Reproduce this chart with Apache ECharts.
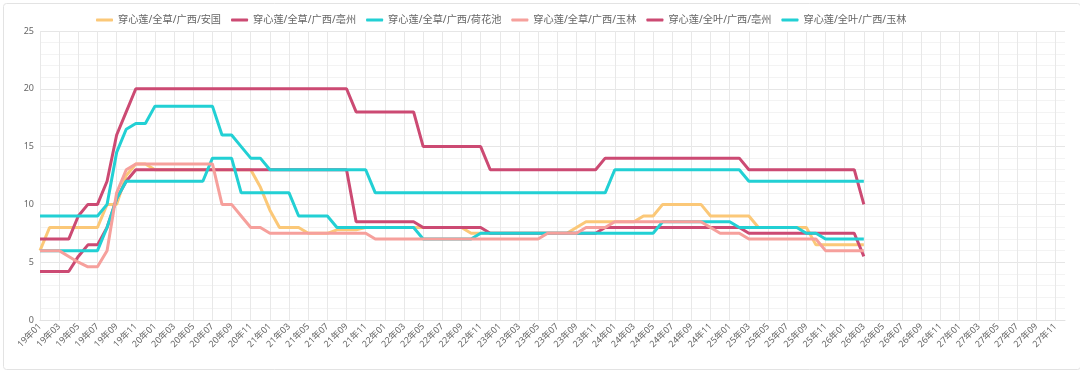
<!DOCTYPE html>
<html>
<head>
<meta charset="utf-8">
<script src="https://cdn.jsdelivr.net/npm/echarts@6/dist/echarts.min.js"></script>
<style>
html,body{margin:0;padding:0;background:#fff;}
#chart{width:1080px;height:374px;}
</style>
</head>
<body>
<div id="chart"></div>
<script>
var categories = [
'19年01','19年02','19年03','19年04','19年05','19年06','19年07','19年08','19年09','19年10','19年11','19年12',
'20年01','20年02','20年03','20年04','20年05','20年06','20年07','20年08','20年09','20年10','20年11','20年12',
'21年01','21年02','21年03','21年04','21年05','21年06','21年07','21年08','21年09','21年10','21年11','21年12',
'22年01','22年02','22年03','22年04','22年05','22年06','22年07','22年08','22年09','22年10','22年11','22年12',
'23年01','23年02','23年03','23年04','23年05','23年06','23年07','23年08','23年09','23年10','23年11','23年12',
'24年01','24年02','24年03','24年04','24年05','24年06','24年07','24年08','24年09','24年10','24年11','24年12',
'25年01','25年02','25年03','25年04','25年05','25年06','25年07','25年08','25年09','25年10','25年11','25年12',
'26年01','26年02','26年03','26年04','26年05','26年06','26年07','26年08','26年09','26年10','26年11','26年12',
'27年01','27年02','27年03','27年04','27年05','27年06','27年07','27年08','27年09','27年10','27年11','27年12'
];

var seriesNames = ['穿心莲/全草/广西/安国','穿心莲/全草/广西/亳州','穿心莲/全草/广西/荷花池','穿心莲/全草/广西/玉林','穿心莲/全叶/广西/亳州','穿心莲/全叶/广西/玉林'];

var quancaoAnguo = [6,8,8,8,8,8,8,10,10,12.5,13.5,13.5,
13,13,13,13,13,13,13,13,13,13,13,11.5,
9.5,8,8,8,7.5,7.5,7.5,7.8,7.8,7.8,8,8,
8,8,8,8,8,8,8,8,8,7.5,7.5,7.5,
7.5,7.5,7.5,7.5,7.5,7.5,7.5,7.5,8,8.5,8.5,8.5,
8.5,8.5,8.5,9,9,10,10,10,10,10,9,9,
9,9,9,8,8,8,8,8,8,6.5,6.5,6.5,
6.5,6.5,6.5];

var quancaoBozhou = [4.2,4.2,4.2,4.2,5.5,6.5,6.5,8,10.5,12,13,13,
13,13,13,13,13,13,13,13,13,13,13,13,
13,13,13,13,13,13,13,13,13,8.5,8.5,8.5,
8.5,8.5,8.5,8.5,8,8,8,8,8,8,8,7.5,
7.5,7.5,7.5,7.5,7.5,7.5,7.5,7.5,7.5,7.5,7.5,8,
8,8,8,8,8,8,8,8,8,8,8,8,
8,8,7.5,7.5,7.5,7.5,7.5,7.5,7.5,7.5,7.5,7.5,
7.5,7.5,5.5];

var quancaoHehuachi = [6,6,6,6,6,6,6,8,10.5,12,12,12,
12,12,12,12,12,12,14,14,14,11,11,11,
11,11,11,9,9,9,9,8,8,8,8,8,
8,8,8,8,7,7,7,7,7,7,7.5,7.5,
7.5,7.5,7.5,7.5,7.5,7.5,7.5,7.5,7.5,7.5,7.5,7.5,
7.5,7.5,7.5,7.5,7.5,8.5,8.5,8.5,8.5,8.5,8.5,8.5,
8.5,8,8,8,8,8,8,8,7.5,7.5,7,7,
7,7,7];

var quancaoYulin = [6,6,6,5.5,5,4.6,4.6,6,11,13,13.5,13.5,
13.5,13.5,13.5,13.5,13.5,13.5,13.5,10,10,9,8,8,
7.5,7.5,7.5,7.5,7.5,7.5,7.5,7.5,7.5,7.5,7.5,7,
7,7,7,7,7,7,7,7,7,7,7,7,
7,7,7,7,7,7.5,7.5,7.5,7.5,8,8,8,
8.5,8.5,8.5,8.5,8.5,8.5,8.5,8.5,8.5,8.5,8,7.5,
7.5,7.5,7,7,7,7,7,7,7,7,6,6,
6,6,6];

var quanyeBozhou = [7,7,7,7,9,10,10,12,16,18,20,20,
20,20,20,20,20,20,20,20,20,20,20,20,
20,20,20,20,20,20,20,20,20,18,18,18,
18,18,18,18,15,15,15,15,15,15,15,13,
13,13,13,13,13,13,13,13,13,13,13,14,
14,14,14,14,14,14,14,14,14,14,14,14,
14,14,13,13,13,13,13,13,13,13,13,13,
13,13,10];

var quanyeYulin = [9,9,9,9,9,9,9,10,14.5,16.5,17,17,
18.5,18.5,18.5,18.5,18.5,18.5,18.5,16,16,15,14,14,
13,13,13,13,13,13,13,13,13,13,13,11,
11,11,11,11,11,11,11,11,11,11,11,11,
11,11,11,11,11,11,11,11,11,11,11,11,
13,13,13,13,13,13,13,13,13,13,13,13,
13,13,12,12,12,12,12,12,12,12,12,12,
12,12,12];

var yTicks = [0,5,10,15,20,25];

var colors = ['#fbc878','#cc4a73','#22d0d4','#f6a09c','#cc4a73','#22d0d4'];
var allData = [quancaoAnguo, quancaoBozhou, quancaoHehuachi, quancaoYulin, quanyeBozhou, quanyeYulin];

var font = '"Noto Sans", "Noto Sans CJK SC", sans-serif';
var chart = echarts.init(document.getElementById('chart'), null, {renderer:'canvas'});

var series = seriesNames.map(function(n, k){
  return {
    name: n, type: 'line', data: allData[k], showSymbol: false, symbol: 'none',
    lineStyle: {width: 3, color: colors[k]}, itemStyle: {color: colors[k]},
    animation: false
  };
});

chart.setOption({
  animation: false,
  backgroundColor: '#ffffff',
  color: colors,
  textStyle: {fontFamily: font},
  graphic: [{
    type: 'rect', left: 1, top: 1, z: -10,
    shape: {width: 1077, height: 366, r: 3},
    style: {fill: 'none', stroke: '#e3e3e3', lineWidth: 1}
  }],
  legend: {
    top: 10, left: 91, icon: 'roundRect', itemWidth: 17, itemHeight: 3, itemGap: 10,
    textStyle: {fontSize: 10.2, color: '#666', fontFamily: font}
  },
  grid: {left: 40, right: 15, top: 31, bottom: 54},
  xAxis: {
    type: 'category', boundaryGap: false, data: categories,
    axisLine: {lineStyle: {color: '#e2e2e2'}},
    axisTick: {show: false},
    axisLabel: {interval: 1, rotate: 45, fontSize: 9, color: '#666', margin: 5, fontFamily: font},
    splitLine: {show: true, interval: 1, lineStyle: {color: '#e8e8e8'}}
  },
  yAxis: {
    type: 'value', min: yTicks[0], max: yTicks[yTicks.length-1], interval: 5,
    axisLine: {show: false}, axisTick: {show: false},
    axisLabel: {fontSize: 9, color: '#666', margin: 6, fontFamily: font},
    splitLine: {lineStyle: {color: '#e6e6e6'}},
    minorTick: {show: false, splitNumber: 5},
    minorSplitLine: {show: true, lineStyle: {color: '#f3f3f3'}}
  },
  series: series
});
</script>
</body>
</html>
